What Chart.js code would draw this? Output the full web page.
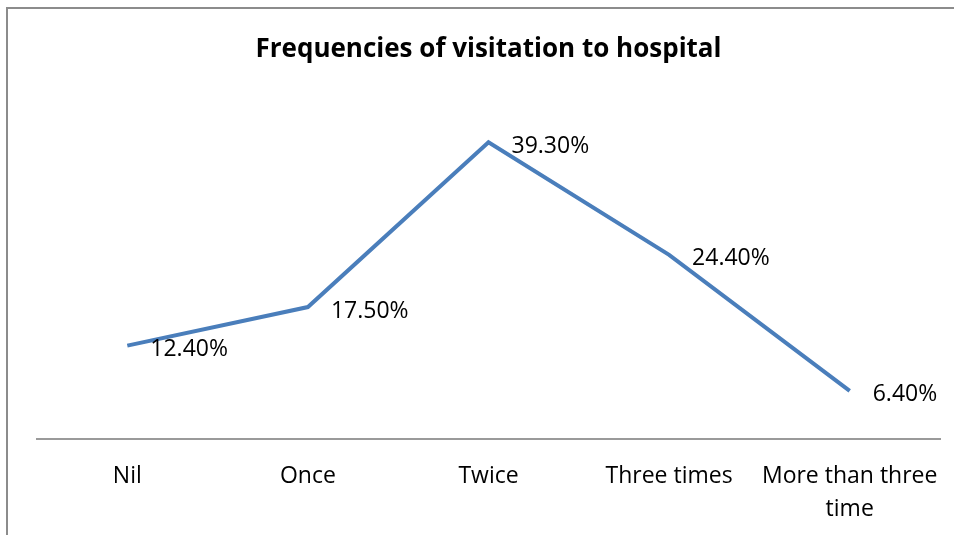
<!DOCTYPE html>
<html>
<head>
<meta charset="utf-8">
<script src="https://cdn.jsdelivr.net/npm/chart.js@4"></script>
<style>
  html, body { margin: 0; padding: 0; background: #fff; overflow: hidden; }
  #wrap { position: relative; width: 954px; height: 535px; }
  #frame { position: absolute; left: 6px; top: 7px; width: 1000px; height: 600px; border: 2px solid #8c8c8c; box-sizing: border-box; }
  canvas { position: absolute; left: 0; top: 0; }
</style>
</head>
<body>
<div id="wrap">
  <div id="frame"></div>
  <canvas id="grafico" width="954" height="535"></canvas>
</div>
<script>
var categorias = ['Nil', 'Once', 'Twice', 'Three times', ['More than three', 'time']];
var frequencias = [12.4, 17.5, 39.3, 24.4, 6.4];
var rotulos = ['12.40%', '17.50%', '39.30%', '24.40%', '6.40%'];
var titulo = 'Frequencies of visitation to hospital';

var fonte = "'Open Sans', 'Liberation Sans', sans-serif";

// escreve o rotulo de cada ponto a direita do ponto
var rotulosPlugin = {
    id: 'rotulos',
    afterDatasetsDraw: function(chart) {
        var ctx = chart.ctx;
        var meta = chart.getDatasetMeta(0);
        ctx.save();
        ctx.font = '23px ' + fonte;
        ctx.fillStyle = '#000';
        ctx.textBaseline = 'middle';
        ctx.textAlign = 'left';
        meta.data.forEach(function(ponto, i) {
            ctx.fillText(rotulos[i], ponto.x + 23, ponto.y + 4);
        });
        ctx.restore();
    }
};

var config = {
    type: 'line',
    data: {
        labels: categorias,
        datasets: [{
            label: 'Frequencies',
            data: frequencias,
            borderColor: '#4A7EBB',
            backgroundColor: '#4A7EBB',
            borderWidth: 4,
            pointRadius: 0,
            tension: 0,
            clip: false
        }]
    },
    options: {
        responsive: false,
        animation: false,
        layout: { padding: { left: 37, right: 14, top: 0, bottom: -11 } },
        plugins: {
            legend: { display: false },
            tooltip: { enabled: false },
            title: {
                display: true,
                text: titulo,
                color: '#000',
                font: { family: fonte, size: 26, weight: 'bold', lineHeight: 1.2 },
                padding: { top: 34, bottom: 34 }
            }
        },
        scales: {
            x: {
                offset: true,
                grid: { display: false, drawTicks: false },
                border: { display: true, color: '#9a9a9a', width: 2 },
                ticks: {
                    color: '#000',
                    padding: 20,
                    autoSkip: false,
                    maxRotation: 0,
                    font: { family: fonte, size: 23, lineHeight: 1.45 }
                },
                afterFit: function(escala) {
                    // o rotulo longo nao deve encolher o eixo
                    escala.paddingLeft = 0;
                    escala.paddingRight = 0;
                }
            },
            y: {
                display: false,
                min: 0,
                max: 45
            }
        }
    },
    plugins: [rotulosPlugin]
};

new Chart(document.getElementById('grafico'), config);
</script>
</body>
</html>
